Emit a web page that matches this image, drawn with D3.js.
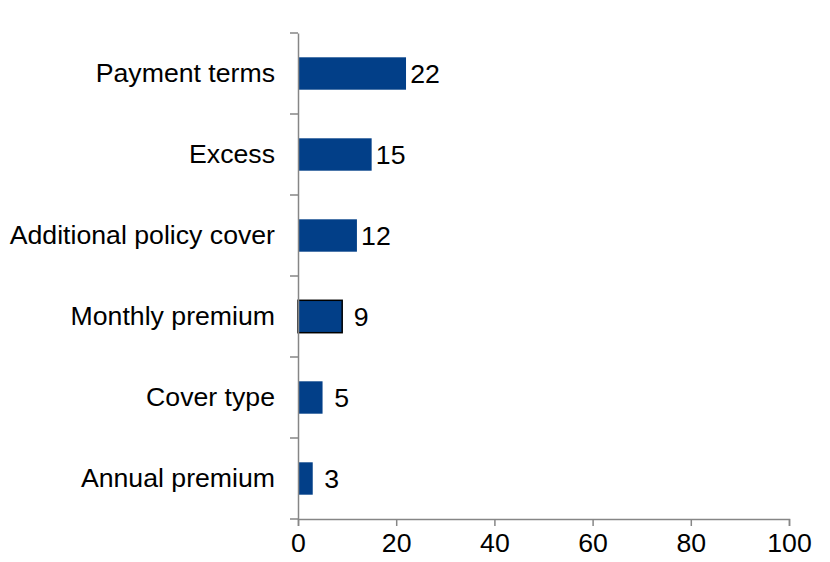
<!DOCTYPE html>
<html>
<head>
<meta charset="utf-8">
<script src="https://cdn.jsdelivr.net/npm/d3@7"></script>
<style>
  html, body { margin: 0; padding: 0; background: #fff; }
  svg { display: block; }
  text { font-family: "Liberation Sans", Arial, sans-serif; fill: #000; }
</style>
</head>
<body>
<div id="chart"></div>
<script>
// Categories listed top to bottom, with the value shown for each bar
const categories = ["Payment terms", "Excess", "Additional policy cover", "Monthly premium", "Cover type", "Annual premium"];
const values = [22, 15, 12, 9, 5, 3];
const highlighted = ["Monthly premium"];
const xTicks = [0, 20, 40, 60, 80, 100];

const width = 830, height = 562;
const margin = { top: 33, right: 41, bottom: 43, left: 298 };
const fontSize = 26.67;
const barColor = "#023F88";
const axisColor = "#868686";

const svg = d3.select("#chart").append("svg")
  .attr("width", width)
  .attr("height", height);

const x = d3.scaleLinear()
  .domain([0, 100])
  .range([margin.left, width - margin.right]);

const y = d3.scaleBand()
  .domain(categories)
  .range([margin.top, height - margin.bottom])
  .paddingInner(0.6)
  .paddingOuter(0.3);

// Bars
svg.append("g")
  .selectAll("rect")
  .data(categories)
  .join("rect")
  .attr("x", x(0))
  .attr("y", d => y(d))
  .attr("width", (d, i) => x(values[i]) - x(0))
  .attr("height", y.bandwidth())
  .attr("fill", barColor)
  .attr("stroke", d => highlighted.includes(d) ? "#000" : "none")
  .attr("stroke-width", 1.5);

// Value labels beyond each bar end
svg.append("g")
  .selectAll("text")
  .data(categories)
  .join("text")
  .attr("x", (d, i) => x(values[i]) + 19)
  .attr("y", d => y(d) + y.bandwidth() / 2)
  .attr("dy", "0.35em")
  .attr("text-anchor", "middle")
  .style("font-size", fontSize + "px")
  .text((d, i) => values[i]);

// Category axis: labels at band centres, tick marks at band boundaries
const yAxis = svg.append("g")
  .attr("transform", `translate(${x(0)},0)`)
  .call(d3.axisLeft(y).tickSize(0).tickPadding(23));
yAxis.select(".domain").attr("stroke", axisColor).attr("stroke-width", 1.5);
yAxis.selectAll(".tick text").style("font-size", fontSize + "px").attr("fill", "#000");

const [y0, y1] = y.range();
const boundaries = d3.range(categories.length + 1).map(i => y0 + i * (y1 - y0) / categories.length);
yAxis.selectAll(".bound")
  .data(boundaries)
  .join("line")
  .attr("class", "bound")
  .attr("x1", -8).attr("x2", 0)
  .attr("y1", d => d).attr("y2", d => d)
  .attr("stroke", axisColor)
  .attr("stroke-width", 1.5);

// Value axis
const xAxis = svg.append("g")
  .attr("transform", `translate(0,${y1})`)
  .call(d3.axisBottom(x).tickValues(xTicks).tickSize(7).tickPadding(7).tickSizeOuter(7));
xAxis.select(".domain").attr("stroke", axisColor).attr("stroke-width", 1.5);
xAxis.selectAll(".tick line").attr("stroke", axisColor).attr("stroke-width", 1.5);
xAxis.selectAll(".tick text").style("font-size", fontSize + "px").attr("fill", "#000");
</script>
</body>
</html>
